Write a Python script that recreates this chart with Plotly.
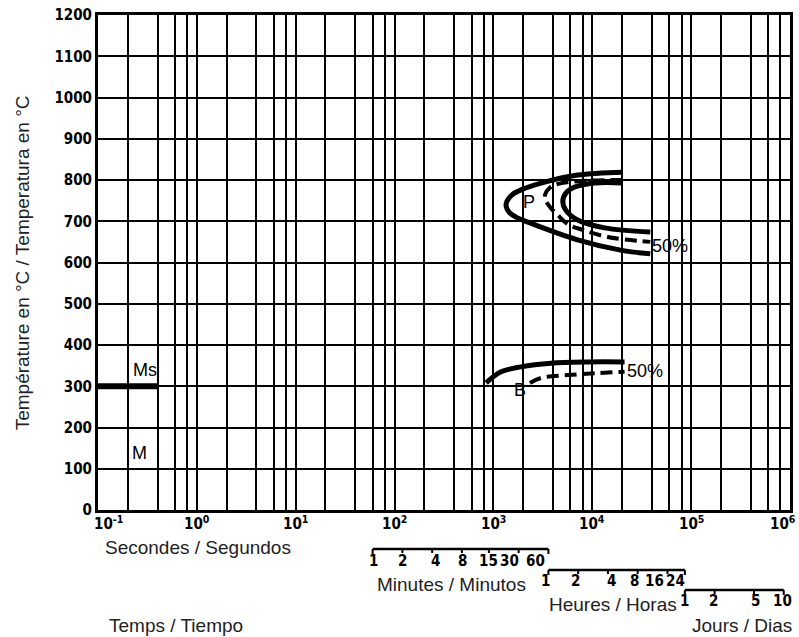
import math
import plotly.graph_objects as go

# ---------------- data ----------------
decade_exps = [-1, 0, 1, 2, 3, 4, 5, 6]
grid_mults = [1, 2, 4, 6, 8]
temp_ticks = list(range(0, 1201, 100))

ms_t = [0.1, 0.4]
ms_T = [300, 300]

p_start_t = [20200, 7100, 3300, 1900, 1542, 1374, 1343, 1439, 1692, 2233, 7100, 19300, 38600]
p_start_T = [819, 812, 795, 776, 764, 749, 737, 722, 710, 698, 655, 630, 621]
p_end_t = [20200, 10600, 6640, 5390, 5030, 5390, 7110, 13300, 38600]
p_end_T = [793, 793, 783, 768, 747, 727, 703, 684, 674]
p_50_t = [20200, 5030, 3720, 3310, 3720, 4480, 5650, 8000, 14300, 38600]
p_50_T = [800, 793, 781, 759, 735, 715, 693, 679, 662, 650]

b_start_t = [843, 1194, 1900, 3810, 8980, 21200]
b_start_T = [308, 335, 347, 356, 359, 359]
b_50_t = [2340, 3020, 5650, 11300, 21200]
b_50_T = [308, 320, 327, 332, 335]

minute_vals = [1, 2, 4, 8, 15, 30, 60]
hour_vals = [1, 2, 4, 8, 16, 24]
day_vals = [1, 2, 5, 10]

# text labels (time s, temperature °C)
labels = [
    ("Ms", 0.30, 340),
    ("M", 0.265, 138),
    ("P", 2285, 747),
    ("50%", 61500, 640),
    ("B", 1860, 291),
    ("50%", 34400, 337),
]

# ---------------- layout helpers ----------------
L, R, T, B = 98, 6, 15, 127
W, H = 799, 637
PH = H - T - B
PW = W - L - R


def py(p):
    return (H - B - p) / PH


def px(p):
    return (p - L) / PW


BOLD = dict(family="DejaVu Sans Condensed, Liberation Sans Narrow, Liberation Sans, Arial",
            size=15, color="black", weight="bold")
LIGHT = dict(family="Liberation Sans, Arial", size=19, color="#222")

fig = go.Figure()

fig.add_trace(go.Scatter(x=ms_t, y=ms_T, mode="lines", line=dict(color="black", width=6)))
for xs, ys, dash in [
    (p_start_t, p_start_T, "solid"),
    (p_end_t, p_end_T, "solid"),
    (p_50_t, p_50_T, "12px,6px"),
    (b_start_t, b_start_T, "solid"),
    (b_50_t, b_50_T, "12px,6px"),
]:
    fig.add_trace(go.Scatter(x=xs, y=ys, mode="lines",
                             line=dict(color="black", width=5 if dash == "solid" else 4,
                                       dash=dash, shape="spline", smoothing=1.0)))

grid_vals = [m * 10 ** e for e in decade_exps[:-1] for m in grid_mults] + [10 ** decade_exps[-1]]

annotations = []
for e in decade_exps:
    shift = 10 if e == decade_exps[0] else (-7 if e == decade_exps[-1] else 0)
    annotations.append(dict(x=e, y=0, xref="x", yref="y", yanchor="top", xanchor="center",
                            yshift=-1, xshift=shift,
                            text=f"10<sup>{e}</sup>", showarrow=False, font=BOLD))

for txt, tx, ty in labels:
    annotations.append(dict(x=math.log10(tx), y=ty, xref="x", yref="y", text=txt, showarrow=False,
                            xanchor="center", yanchor="middle",
                            font=dict(family="Liberation Sans, Arial", size=18, color="black")))

shapes = []


def scale(vals, unit_s, bar_py, lab_py, shifts):
    xs = [v * unit_s for v in vals]
    shapes.append(dict(type="line", xref="x", yref="paper", x0=xs[0], x1=xs[-1],
                       y0=py(bar_py), y1=py(bar_py), line=dict(color="black", width=2.5)))
    for i, x in enumerate(xs):
        ln = 5 if i in (0, len(xs) - 1) else 4
        shapes.append(dict(type="line", xref="x", yref="paper", x0=x, x1=x,
                           y0=py(bar_py), y1=py(bar_py + ln), line=dict(color="black", width=2)))
    for v, x, s in zip(vals, xs, shifts):
        annotations.append(dict(x=math.log10(x), y=py(lab_py), xref="x", yref="paper",
                                xanchor="center", yanchor="middle",
                                text=str(v), showarrow=False, xshift=s, font=BOLD))


scale(minute_vals, 60, 549, 561, [1, 0, 3, 1, 0, -9, -13])
scale(hour_vals, 3600, 570, 581, [-3, -3, 4, -3, -13, -9])
scale(day_vals, 86400, 590, 601, [0, -1, 2, -1])

for txt, x, y, anchor in [
    ("Secondes / Segundos", 103, 547, "left"),
    ("Minutes / Minutos", 376, 584, "left"),
    ("Heures / Horas", 549, 604, "left"),
    ("Jours / Dias", 797, 625, "right"),
    ("Temps / Tiempo", 107, 625, "left"),
]:
    annotations.append(dict(x=px(x), y=py(y), xref="paper", yref="paper", xanchor=anchor,
                            yanchor="middle", text=txt, showarrow=False, font=LIGHT))

annotations.append(dict(x=px(22), y=py(263), xref="paper", yref="paper", textangle=-90,
                        xanchor="center", yanchor="middle",
                        text="Température en °C / Temperatura en °C", showarrow=False, font=LIGHT))

fig.update_layout(
    width=W, height=H, margin=dict(l=L, r=R, t=T, b=B),
    plot_bgcolor="white", paper_bgcolor="white", showlegend=False,
    annotations=annotations, shapes=shapes,
    xaxis=dict(type="log", range=[-1, 6], tickvals=grid_vals, showticklabels=False,
               showgrid=True, gridcolor="black", gridwidth=2, ticks="",
               showline=True, mirror=True, linecolor="black", linewidth=3, zeroline=False),
    yaxis=dict(range=[0, 1200], tickvals=temp_ticks, showgrid=True, gridcolor="black", gridwidth=2,
               ticks="", tickfont=BOLD, showline=True, mirror=True, linecolor="black", linewidth=3,
               zeroline=False),
)

fig.write_html("out.html", post_script="document.body.style.margin='0px';",
               config={"displayModeBar": False})
